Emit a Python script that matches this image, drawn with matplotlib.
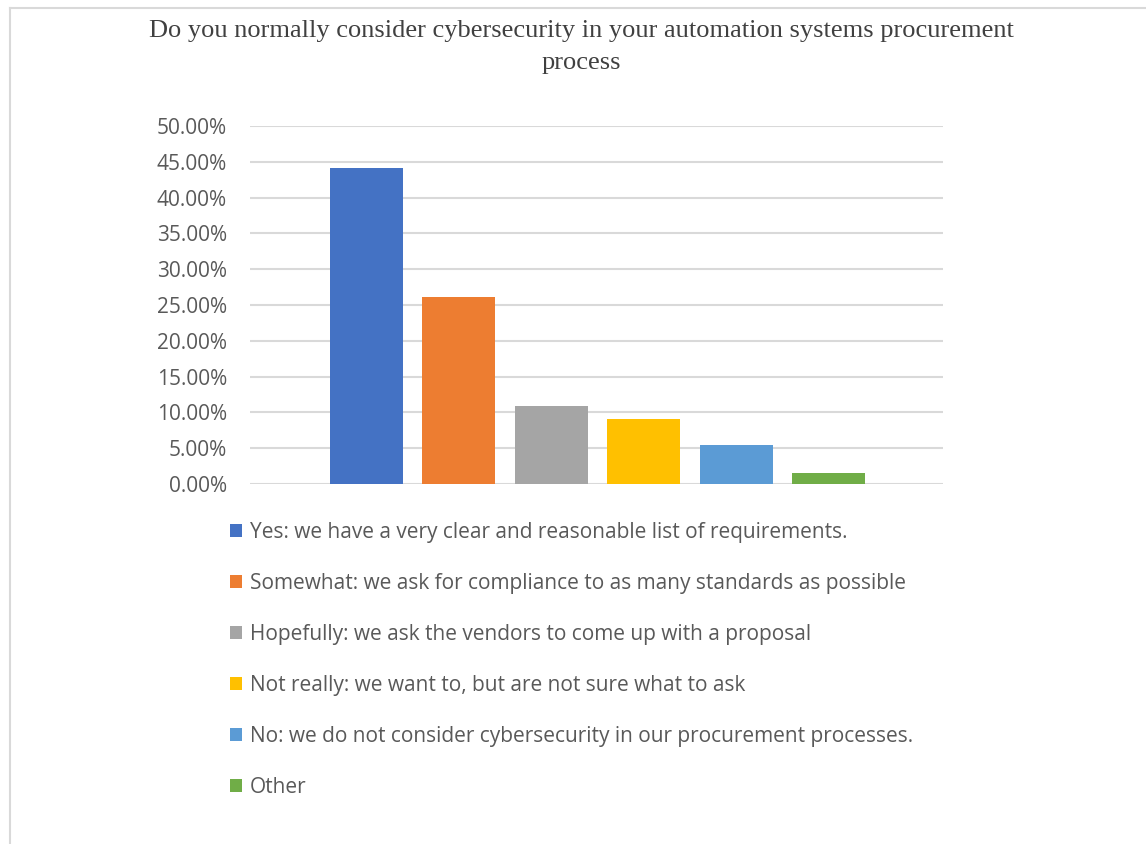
import matplotlib.pyplot as plt
from matplotlib.lines import Line2D
from matplotlib.ticker import PercentFormatter

labels = [
    "Yes: we have a very clear and reasonable list of requirements.",
    "Somewhat: we ask for compliance to as many standards as possible",
    "Hopefully: we ask the vendors to come up with a proposal",
    "Not really: we want to, but are not sure what to ask",
    "No: we do not consider cybersecurity in our procurement processes.",
    "Other",
]
values = [0.4412, 0.2605, 0.1084, 0.0902, 0.0538, 0.016]
colors = ["#4472c4", "#ed7d31", "#a5a5a5", "#ffc000", "#5b9bd5", "#70ad47"]

title = "Do you normally consider cybersecurity in your automation systems procurement\nprocess"

text_col = "#595959"
W, H = 1146, 844
fig = plt.figure(figsize=(W / 100, H / 100), dpi=100)

# outer chart frame (only top and left visible)
fig.add_artist(Line2D([10 / W, 10 / W], [0, 1 - 8 / H], color="#d9d9d9", lw=1.5))
fig.add_artist(Line2D([10 / W, 1], [1 - 8 / H, 1 - 8 / H], color="#d9d9d9", lw=1.5))

ax = fig.add_axes([250 / W, 1 - 484 / H, (943 - 250) / W, (484 - 126) / H])

x = list(range(len(values)))
bars = ax.bar(x, values, width=0.79, color=colors, zorder=3)

ax.set_xlim(-1.26, 6.24)
ax.set_ylim(0, 0.5)
ax.set_yticks([i * 0.05 for i in range(11)])
ax.yaxis.set_major_formatter(PercentFormatter(1.0, decimals=2))
ax.set_xticks([])
ax.grid(axis="y", color="#d9d9d9", lw=1.5, zorder=0)
for s in ax.spines.values():
    s.set_visible(False)
ax.tick_params(axis="y", length=0, pad=16.5, labelsize=15, labelcolor=text_col)
for t in ax.get_yticklabels():
    t.set_fontfamily("Open Sans")

fig.text(581 / W, 1 - 20 / H, title, ha="center", va="top", fontsize=19,
         family="Liberation Serif", color="#404040", linespacing=1.6)

fig.legend(handles=list(bars), labels=labels, loc="upper left",
           bbox_to_anchor=(211 / W, 1 - 503 / H), frameon=False,
           prop={"family": "Open Sans", "size": 15}, labelcolor=text_col,
           handlelength=0.6, handleheight=0.6, handletextpad=0.35,
           labelspacing=1.44)

fig.savefig("out.png", dpi=100)
